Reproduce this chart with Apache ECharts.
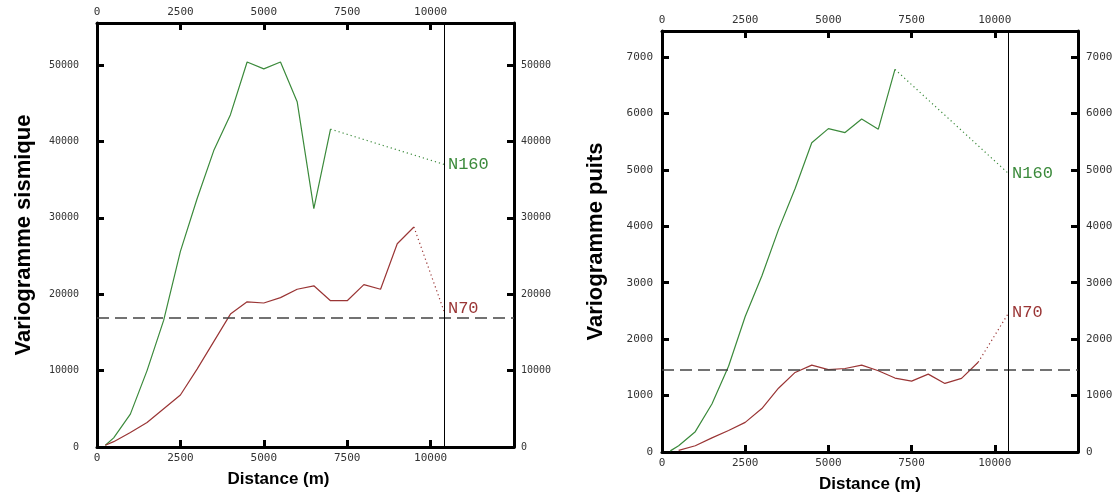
<!DOCTYPE html>
<html>
<head>
<meta charset="utf-8">
<script src="https://cdn.jsdelivr.net/npm/echarts@6/dist/echarts.min.js"></script>
<style>
  html, body { margin: 0; padding: 0; background: #fff; }
  #chart { width: 1120px; height: 498px; }
</style>
</head>
<body>
<div id="chart"></div>
<script>
// left panel: variogramme sismique
const seisDistN160 = [250, 500, 1000, 1500, 2000, 2500, 3000, 3500, 4000, 4500, 5000, 5500, 6000, 6500, 7000];
const seisN160 = [220, 1200, 4300, 10000, 16600, 25600, 32500, 38800, 43500, 50400, 49500, 50400, 45200, 31200, 41600];
const seisDistN70 = [250, 500, 1000, 1500, 2000, 2500, 3000, 3500, 4000, 4500, 5000, 5500, 6000, 6500, 7000, 7500, 8000, 8500, 9000, 9500];
const seisN70 = [220, 700, 1900, 3200, 5000, 6800, 10200, 13800, 17400, 19000, 18850, 19550, 20650, 21100, 19150, 19150, 21250, 20650, 26600, 28800];
const seisTailDist = [7000, 10400];
const seisTailN160 = [41600, 37000];
const seisTailDistN70 = [9500, 10400];
const seisTailN70 = [28800, 17800];
const seisSill = 16900;

// right panel: variogramme puits
const puitsDistN160 = [250, 500, 1000, 1500, 2000, 2500, 3000, 3500, 4000, 4500, 5000, 5500, 6000, 6500, 7000];
const puitsN160 = [20, 110, 360, 850, 1520, 2400, 3120, 3940, 4670, 5480, 5730, 5660, 5900, 5720, 6780];
const puitsDistN70 = [500, 1000, 1500, 2000, 2500, 3000, 3500, 4000, 4500, 5000, 5500, 6000, 6500, 7000, 7500, 8000, 8500, 9000, 9500];
const puitsN70 = [30, 110, 250, 380, 525, 770, 1130, 1410, 1540, 1460, 1480, 1540, 1440, 1310, 1255, 1380, 1215, 1305, 1590];
const puitsTailDist = [7000, 10400];
const puitsTailN160 = [6780, 4940];
const puitsTailDistN70 = [9500, 10400];
const puitsTailN70 = [1590, 2450];
const puitsSill = 1450;

const rangeLine = 10400;
const xTicks = [0, 2500, 5000, 7500, 10000];

const green = '#3b8a3b';
const red = '#9a3535';
const zip = (xs, ys) => xs.map((x, i) => [x, ys[i]]);

function xAxisDef(grid, pos, margin) {
    return {
        type: 'value', gridIndex: grid, position: pos,
        min: 0, max: 12500, interval: 2500,
        axisLine: { show: true, onZero: false, lineStyle: { color: '#000', width: 3 } },
        axisTick: { show: true, inside: true, length: 7, lineStyle: { color: '#000', width: 3 } },
        splitLine: { show: false },
        axisLabel: {
            margin: margin, fontFamily: 'DejaVu Sans Mono', fontSize: 11, color: '#333',
            formatter: v => xTicks.indexOf(v) >= 0 ? String(v) : ''
        }
    };
}

function yAxisDef(grid, pos, max, step, margin, fs) {
    return {
        type: 'value', gridIndex: grid, position: pos,
        min: 0, max: max, interval: step,
        axisLine: { show: true, onZero: false, lineStyle: { color: '#000', width: 3 } },
        axisTick: { show: true, inside: true, length: 7, lineStyle: { color: '#000', width: 3 } },
        splitLine: { show: false },
        axisLabel: {
            margin: margin, fontFamily: 'DejaVu Sans Mono', fontSize: fs, color: '#333',
            formatter: v => (v % step === 0) ? String(v) : ''
        }
    };
}

const nameStyle = { fontFamily: 'Liberation Sans', fontWeight: 'bold', color: '#000' };

const xAxes = [
    Object.assign(xAxisDef(0, 'bottom', 6), {
        name: 'Distance (m)', nameLocation: 'middle', nameGap: 24,
        nameTextStyle: Object.assign({ fontSize: 17, padding: [0, 54, 0, 0] }, nameStyle)
    }),
    xAxisDef(0, 'top', 5),
    Object.assign(xAxisDef(1, 'bottom', 6), {
        name: 'Distance (m)', nameLocation: 'middle', nameGap: 24,
        nameTextStyle: Object.assign({ fontSize: 17 }, nameStyle)
    }),
    xAxisDef(1, 'top', 5)
];

const yAxes = [
    Object.assign(yAxisDef(0, 'left', 55500, 10000, 18, 10), {
        name: 'Variogramme sismique', nameLocation: 'middle', nameGap: 62,
        nameTextStyle: Object.assign({ fontSize: 22 }, nameStyle)
    }),
    yAxisDef(0, 'right', 55500, 10000, 7, 10),
    Object.assign(yAxisDef(1, 'left', 7460, 1000, 9, 11), {
        name: 'Variogramme puits', nameLocation: 'middle', nameGap: 55,
        nameTextStyle: Object.assign({ fontSize: 22 }, nameStyle)
    }),
    yAxisDef(1, 'right', 7460, 1000, 8, 11)
];

function solid(xi, yi, data, color) {
    return {
        type: 'line', xAxisIndex: xi, yAxisIndex: yi, data: data,
        symbol: 'none', lineStyle: { color: color, width: 1.2 }, silent: true, z: 3
    };
}

function tail(xi, yi, data, color, text, offset) {
    return {
        type: 'line', xAxisIndex: xi, yAxisIndex: yi, data: data,
        symbol: 'none', lineStyle: { color: color, width: 1.2, type: [1.2, 3] }, silent: true, z: 3,
        endLabel: {
            show: true, distance: 4, offset: offset, formatter: text,
            fontFamily: 'Liberation Mono', fontSize: 17, color: color
        }
    };
}

function refLines(xi, yi, sill) {
    return {
        type: 'line', xAxisIndex: xi, yAxisIndex: yi, data: [], silent: true,
        markLine: {
            symbol: 'none', silent: true, animation: false,
            label: { show: false },
            data: [
                { yAxis: sill, lineStyle: { color: '#444', width: 1.6, type: [12, 6] } },
                { xAxis: rangeLine, lineStyle: { color: '#000', width: 1, type: 'solid' } }
            ]
        }
    };
}

const option = {
    animation: false,
    backgroundColor: '#fff',
    grid: [
        { left: 97, right: 606, top: 23, bottom: 51 },
        { left: 662, right: 42, top: 31, bottom: 45 }
    ],
    xAxis: xAxes,
    yAxis: yAxes,
    series: [
        refLines(0, 0, seisSill),
        solid(0, 0, zip(seisDistN160, seisN160), green),
        solid(0, 0, zip(seisDistN70, seisN70), red),
        tail(0, 0, zip(seisTailDist, seisTailN160), green, 'N160', [0, 0]),
        tail(0, 0, zip(seisTailDistN70, seisTailN70), red, 'N70', [0, -3]),
        refLines(2, 2, puitsSill),
        solid(2, 2, zip(puitsDistN160, puitsN160), green),
        solid(2, 2, zip(puitsDistN70, puitsN70), red),
        tail(2, 2, zip(puitsTailDist, puitsTailN160), green, 'N160', [0, 0]),
        tail(2, 2, zip(puitsTailDistN70, puitsTailN70), red, 'N70', [0, -1])
    ]
};

const chart = echarts.init(document.getElementById('chart'));
chart.setOption(option);
</script>
</body>
</html>
